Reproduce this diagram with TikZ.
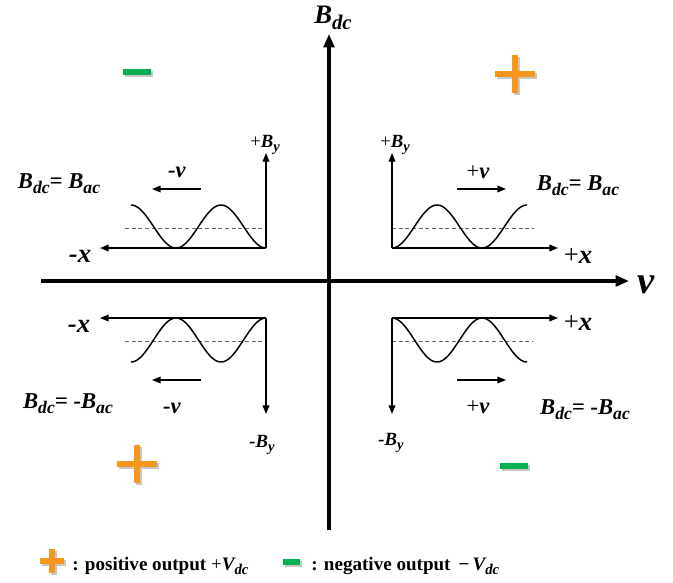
\documentclass[tikz,border=0pt]{standalone}
\usepackage{fontspec}
\usepackage{graphicx}
\setmainfont{Liberation Serif}
\usetikzlibrary{arrows.meta}
\definecolor{plusor}{RGB}{247,150,30}
\definecolor{minusgr}{RGB}{0,176,80}
\newcommand\sbs[1]{\raisebox{-0.5ex}{\scalebox{0.78}{#1}}}

\begin{document}
\begin{tikzpicture}[x=0.75pt, y=-0.75pt, every node/.style={font=\bfseries\itshape, inner sep=0pt, anchor=base},
	axis/.style={line width=2.3pt, -{Triangle[length=10pt, width=8pt]}},
	ax/.style={line width=1.1pt, -{Triangle[length=6.5pt, width=5pt]}},
	wave/.style={line width=1.1pt},
	mid/.style={black!60, line width=0.6pt, dash pattern=on 3pt off 2pt},
	lab/.style={font=\fontsize{14}{14}\bfseries\itshape},
	eq/.style={font=\fontsize{17}{17}\bfseries\itshape},
	sv/.style={font=\fontsize{17}{17}\bfseries\itshape},
	big/.style={font=\fontsize{20}{20}\bfseries\itshape},
	pl/.style={line width=5pt, plusor}, mi/.style={line width=4pt, minusgr}, sh/.style={line width=5pt, black!22}]
	\useasboundingbox (0,0) rectangle (673,582);
	\coordinate (O) at (329,281); \coordinate (bB) at (329,530); \coordinate (bT) at (329,34); \coordinate (vL) at (41,281); \coordinate (vR) at (629,281);
	\draw[axis] (bB) -- (bT);
	\draw[axis] (vL) -- (vR);
	\node[big] (bdc) at (333,23) {B\sbs{dc}};
	\node[font=\fontsize{29}{30}\bfseries\itshape] (vel) at (646,293) {v};
	\begin{scope}
		\coordinate (otr) at (392,248); \coordinate (xtr) at (558,248); \coordinate (ytr) at (392,153);
		\draw[mid] (392,228) -- (534,228);
		\draw[wave] plot[domain=392:527, samples=80, smooth] (\x, {226.5-21.5*cos(4*(\x-437))});
		\draw[ax] (otr) -- (xtr); \draw[ax] (otr) -- (ytr);
		\coordinate (vtr1) at (457,189); \coordinate (vtr2) at (506,189);
		\draw[ax] (vtr1) -- (vtr2);
		\node[lab] (Btr) at (395,147) {{\mdseries\upshape+}B\sbs{y}};
		\node[big] (xtrl) at (578,263) {{\mdseries\upshape+}x};
		\node[sv] (vtrl) at (478,178) {{\mdseries\upshape+}v};
		\node[eq] (etr) at (578,190) {B\sbs{dc}= B\sbs{ac}};
	\end{scope}
	\begin{scope}
		\coordinate (otl) at (266,248); \coordinate (xtl) at (100,248); \coordinate (ytl) at (266,153);
		\draw[mid] (125,228) -- (266,228);
		\draw[wave] plot[domain=131:266, samples=80, smooth] (\x, {226.5-21.5*cos(4*(\x-221))});
		\draw[ax] (otl) -- (xtl); \draw[ax] (otl) -- (ytl);
		\coordinate (vtl1) at (201,189); \coordinate (vtl2) at (152,189);
		\draw[ax] (vtl1) -- (vtl2);
		\node[lab] (Btl) at (265,147) {{\mdseries\upshape+}B\sbs{y}};
		\node[big] (xtll) at (80,262) {-x};
		\node[sv] (vtll) at (177,177) {-v};
		\node[eq] (etl) at (59,188) {B\sbs{dc}= B\sbs{ac}};
	\end{scope}
	\begin{scope}
		\coordinate (obr) at (392,318); \coordinate (xbr) at (558,318); \coordinate (ybr) at (392,414);
		\draw[mid] (392,341) -- (533,341);
		\draw[wave] plot[domain=392:527, samples=80, smooth] (\x, {340-22*cos(4*(\x-392))});
		\draw[ax] (obr) -- (xbr); \draw[ax] (obr) -- (ybr);
		\coordinate (vbr1) at (457,380); \coordinate (vbr2) at (506,380);
		\draw[ax] (vbr1) -- (vbr2);
		\node[lab] (Bbr) at (391,445) {-B\sbs{y}};
		\node[big] (xbrl) at (578,330) {{\mdseries\upshape+}x};
		\node[sv] (vbrl) at (478,413) {{\mdseries\upshape+}v};
		\node[eq] (ebr) at (585,414) {B\sbs{dc}= -B\sbs{ac}};
	\end{scope}
	\begin{scope}
		\coordinate (obl) at (266,318); \coordinate (xbl) at (100,318); \coordinate (ybl) at (266,414);
		\draw[mid] (125,341) -- (266,341);
		\draw[wave] plot[domain=131:266, samples=80, smooth] (\x, {340-22*cos(4*(266-\x))});
		\draw[ax] (obl) -- (xbl); \draw[ax] (obl) -- (ybl);
		\coordinate (vbl1) at (201,380); \coordinate (vbl2) at (152,380);
		\draw[ax] (vbl1) -- (vbl2);
		\node[lab] (Bbl) at (262,447) {-B\sbs{y}};
		\node[big] (xbll) at (79,332) {-x};
		\node[sv] (vbll) at (172,413) {-v};
		\node[eq] (ebl) at (68,408) {B\sbs{dc}= -B\sbs{ac}};
	\end{scope}
	\draw[sh] (125,74) -- (153,74); \draw[mi] (123,72) -- (151,72);
	\draw[sh] (502,468) -- (530,468); \draw[mi] (500,466) -- (528,466);
	\draw[sh] (497,76) -- (537,76) (517,57) -- (517,95); \draw[pl] (495,74) -- (535,74) (515,55) -- (515,93);
	\draw[sh] (119,466) -- (159,466) (139,447) -- (139,485); \draw[pl] (117,464) -- (157,464) (137,445) -- (137,483);
	\draw[sh, line width=4pt] (42,563) -- (66,563) (54,551) -- (54,575); \draw[pl, line width=4pt] (40,561) -- (64,561) (52,549) -- (52,573);
	\draw[sh, line width=4pt] (285,564) -- (302,564); \draw[mi] (283,562) -- (300,562);
	\node[anchor=base west, font=\fontsize{14.3}{14.3}\bfseries] (leg1) at (72,570) {: positive output {\mdseries+}{\itshape V\sbs{dc}}};
	\node[anchor=base west, font=\fontsize{14.3}{14.3}\bfseries] (leg2) at (311,570) {: negative output \,−\,{\itshape V\sbs{dc}}};
\end{tikzpicture}
\end{document}
